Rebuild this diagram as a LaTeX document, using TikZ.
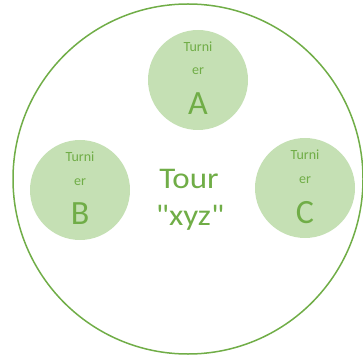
\documentclass[tikz,border=0pt]{standalone}
\usepackage{fontspec}
\setmainfont{Carlito}
\newfontfamily\wide[FakeStretch=1.1]{Carlito}
\definecolor{grn}{HTML}{70AD47}
\definecolor{lgrn}{HTML}{C5E0B4}
\begin{document}
\begin{tikzpicture}[x=1pt,y=-1pt,
  small/.style={circle,fill=lgrn,minimum size=100pt,inner sep=0pt},
  lbl/.style={text=grn,anchor=base,inner sep=0pt,font=\fontsize{14}{14}\selectfont},
  big/.style={text=grn,anchor=base,inner sep=0pt,font=\fontsize{34}{34}\selectfont},
  title/.style={text=grn,anchor=base,inner sep=0pt,font=\wide\fontsize{30}{30}\selectfont}]
\useasboundingbox (0,0) rectangle (363,355);
\node[circle,draw=grn,line width=1.5pt,minimum size=350pt,inner sep=0pt] (outer) at (188,179) {};
\node[small] (ca) at (198,80) {};
\node[small] (cb) at (80,190) {};
\node[small] (cc) at (305,188) {};
\node[lbl] (ta1) at (198,52) {Turni};
\node[lbl] (ta2) at (198,75) {er};
\node[big] (ta3) at (198,115) {A};
\node[lbl] (tb1) at (80,162) {Turni};
\node[lbl] (tb2) at (80,185) {er};
\node[big] (tb3) at (80,224) {B};
\node[lbl] (tc1) at (305,160) {Turni};
\node[lbl] (tc2) at (305,183) {er};
\node[big] (tc3) at (305,223) {C};
\node[title] (t1) at (189,188) {Tour};
\node[title] (t2) at (190,225) {\char"22 xyz\char"22};
\end{tikzpicture}
\end{document}
